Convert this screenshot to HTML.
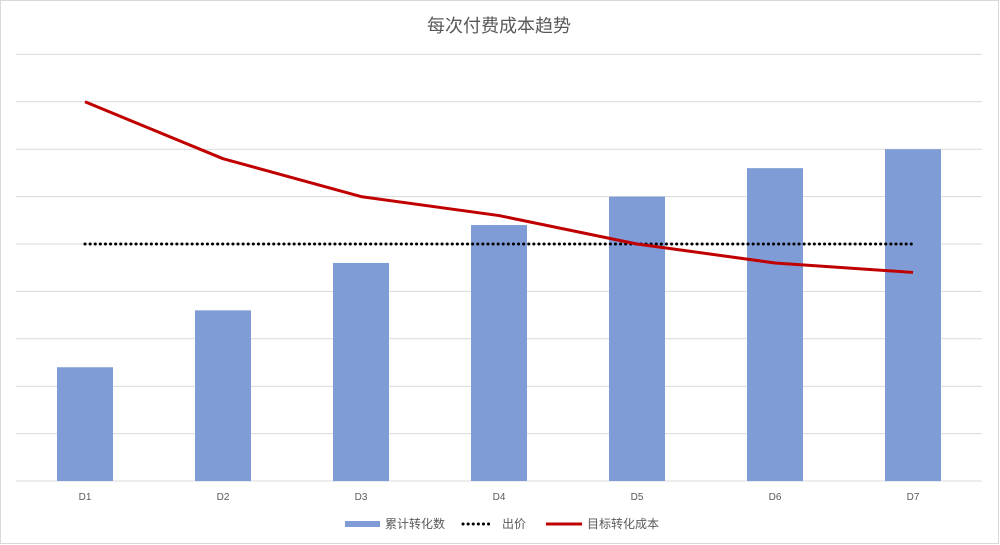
<!DOCTYPE html>
<html><head><meta charset="utf-8">
<style>
body{margin:0;background:#fff;}
svg{display:block;font-family:"Liberation Sans","Noto Sans CJK SC",sans-serif;}
</style></head>
<body>
<svg id="chart" width="1000" height="545">
<rect x="0.5" y="0.5" width="998" height="543" fill="#fff" stroke="#d9d9d9"/>
<text x="499" y="32" text-anchor="middle" font-size="18" fill="#595959">每次付费成本趋势</text>
<g id="grid"></g><g id="bars"></g><g id="lines"></g><g id="xlabels"></g>
<g>
<rect x="345" y="521" width="35" height="6" fill="#7f9cd6"/>
<text x="385" y="528" font-size="12" fill="#595959">累计转化数</text>
<line x1="463" y1="524" x2="493" y2="524" stroke="#000" stroke-width="3" stroke-dasharray="0.1,5" stroke-linecap="round"/>
<text x="502" y="528" font-size="12" fill="#595959">出价</text>
<line x1="546" y1="524" x2="582" y2="524" stroke="#c00000" stroke-width="3"/>
<text x="587" y="528" font-size="12" fill="#595959">目标转化成本</text>
</g>
</svg>
<script>
const categories=["D1","D2","D3","D4","D5","D6","D7"];
const conversions=[2.4,3.6,4.6,5.4,6.0,6.6,7.0];
const price=[5,5,5,5,5,5,5];
const targetCost=[8.0,6.8,6.0,5.6,5.0,4.6,4.4];
const yTicks=[0,1,2,3,4,5,6,7,8,9];
const NS="http://www.w3.org/2000/svg";
const left=16,right=982,base=481,unit=47.4;
const band=(right-left)/categories.length;
const x=i=>left+band*(i+0.5);
const y=v=>base-v*unit;
function mk(tag,attrs,parent){const e=document.createElementNS(NS,tag);for(const k in attrs)e.setAttribute(k,attrs[k]);document.getElementById(parent).appendChild(e);return e;}
yTicks.forEach(t=>{const l=mk('line',{x1:left,x2:right,y1:y(t),y2:y(t),stroke:'#d9d9d9','stroke-width':1},'grid');

});
conversions.forEach((v,i)=>{const r=mk('rect',{x:x(i)-28,y:y(v),width:56,height:v*unit,fill:'#7f9cd6'},'bars');

});
categories.forEach((c,i)=>{const t=mk('text',{x:x(i),y:500,'text-anchor':'middle','font-size':10,fill:'#595959'},'xlabels');t.textContent=c;

});
const pp=price.map((v,i)=>x(i)+','+y(v)).join(' ');
const pl=mk('polyline',{points:pp,fill:'none',stroke:'#000','stroke-width':3,'stroke-dasharray':'0.1,5','stroke-linecap':'round'},'lines');


const tp=targetCost.map((v,i)=>x(i)+','+y(v)).join(' ');
const tl=mk('polyline',{points:tp,fill:'none',stroke:'#c00000','stroke-width':3,'stroke-linejoin':'round'},'lines');


</script>
</body></html>
